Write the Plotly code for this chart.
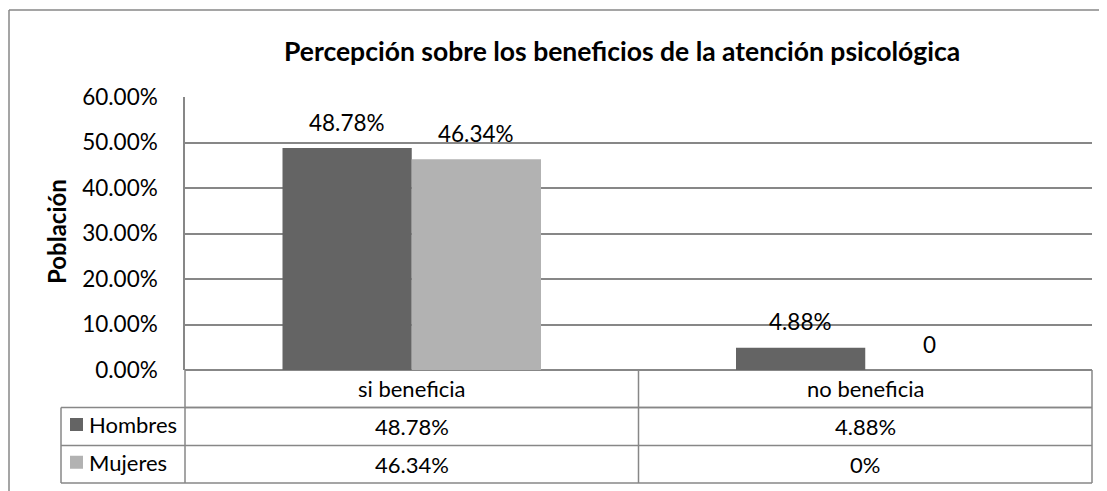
import plotly.graph_objects as go

# ---- data ----
categories = ["si beneficia", "no beneficia"]
series_names = ["Hombres", "Mujeres"]
hombres = [0.4878, 0.0488]
mujeres = [0.4634, 0.0]
bar_labels_hombres = ["48.78%", "4.88%"]
bar_labels_mujeres = ["46.34%", "0"]
table_hombres = ["48.78%", "4.88%"]
table_mujeres = ["46.34%", "0%"]
ytick_vals = [0.0, 0.1, 0.2, 0.3, 0.4, 0.5, 0.6]
title_text = "Percepción sobre los beneficios de la atención psicológica"
ytitle_text = "Población"

# ---- style ----
# page body has an 8px margin, so the figure is drawn 8px smaller/shifted
OFF = 8
W, H = 1107 - OFF, 491 - OFF
PX0, PX1, PY0, PY1 = 185, 1092, 97, 370  # plot area in page pixels
L, R, T, B = PX0 - OFF, W - (PX1 - OFF), PY0 - OFF, H - (PY1 - OFF)
PW, PH = PX1 - PX0, PY1 - PY0
FONT = "Lato, 'Open Sans', sans-serif"
GRID = "#878787"
colors = ["#646464", "#b2b2b2"]
BARGAP = 0.43


def px_x(x):
    return (x - PX0) / PW


def px_y(y):
    return (PY1 - y) / PH


fig = go.Figure()
series_vals = [hombres, mujeres]
for name, vals, col in zip(series_names, series_vals, colors):
    fig.add_trace(go.Bar(x=categories, y=vals, name=name, marker_color=col,
                         marker_line_width=0, showlegend=False))

shapes = []
annotations = []


def line(x0, y0, x1, y1, w=1.5):
    shapes.append(dict(type="line", xref="paper", yref="paper",
                       x0=px_x(x0), y0=px_y(y0), x1=px_x(x1), y1=px_y(y1),
                       line=dict(color=GRID, width=w), layer="above"))


def text(x, y, s, size, anchor="center", bold=False, angle=0):
    annotations.append(dict(x=px_x(x), y=px_y(y), xref="paper", yref="paper",
                            xanchor=anchor, yanchor="middle", textangle=angle,
                            text=("<b>%s</b>" % s) if bold else s, showarrow=False,
                            font=dict(family=FONT, size=size, color="black")))


# outer chart border (top & left visible)
line(9, 10, 1120, 10)
line(9, 10, 9, 500)

# table geometry
x_left_leg = 61
row_y = [PY1, 407.5, 445.5, 483]
ncat = len(categories)
cat_w = PW / ncat

line(PX0, row_y[1], PX1, row_y[1])
line(x_left_leg, row_y[1], PX1, row_y[1])
line(x_left_leg, row_y[2], PX1, row_y[2])
line(x_left_leg, row_y[3], PX1, row_y[3])
line(x_left_leg, row_y[1], x_left_leg, row_y[3])
for i in range(ncat + 1):
    xx = PX0 + i * cat_w
    line(xx, row_y[0], xx, row_y[3])

TFS = 22
for i, cat in enumerate(categories):
    cx = PX0 + (i + 0.5) * cat_w
    text(cx, (row_y[0] + row_y[1]) / 2, cat, TFS)
    for r, tv in enumerate([table_hombres, table_mujeres]):
        text(cx, (row_y[r + 1] + row_y[r + 2]) / 2, tv[i], TFS)

for r, (name, col) in enumerate(zip(series_names, colors)):
    cy = (row_y[r + 1] + row_y[r + 2]) / 2 - 2
    shapes.append(dict(type="rect", xref="paper", yref="paper",
                       x0=px_x(70), x1=px_x(83), y0=px_y(cy + 6.5), y1=px_y(cy - 6.5),
                       fillcolor=col, line=dict(width=0), layer="above"))
    text(87, cy, name, TFS, anchor="left")

# data labels above bars
bar_w = cat_w * (1 - BARGAP) / len(series_names)
for s, labels in enumerate([bar_labels_hombres, bar_labels_mujeres]):
    shift = (s - (len(series_names) - 1) / 2) * bar_w
    for i, cat in enumerate(categories):
        annotations.append(dict(x=cat, y=series_vals[s][i], xref="x", yref="y",
                                xshift=shift, yshift=26, xanchor="center", yanchor="middle",
                                text=labels[i], showarrow=False,
                                font=dict(family=FONT, size=22.5, color="black")))

text(622, 51, title_text, 26.5, bold=True)
text(56, 232, ytitle_text, 24, bold=True, angle=-90)

fig.update_layout(
    width=W, height=H,
    margin=dict(l=L, r=R, t=T, b=B, autoexpand=False),
    paper_bgcolor="white", plot_bgcolor="white",
    barmode="group", bargap=BARGAP, bargroupgap=0,
    font=dict(family=FONT, color="black"),
    shapes=shapes, annotations=annotations,
    xaxis=dict(showticklabels=False, showgrid=False, zeroline=False, showline=False, ticks=""),
    yaxis=dict(range=[0, 0.6], tickvals=ytick_vals, tickformat=".2%",
               showgrid=True, gridcolor=GRID, gridwidth=1.5,
               zeroline=True, zerolinecolor=GRID, zerolinewidth=1.5,
               showline=True, linecolor=GRID, linewidth=1.5,
               ticks="", ticklabelstandoff=21,
               tickfont=dict(family=FONT, size=22.5, color="black")),
)

fig.write_html("out.html")
